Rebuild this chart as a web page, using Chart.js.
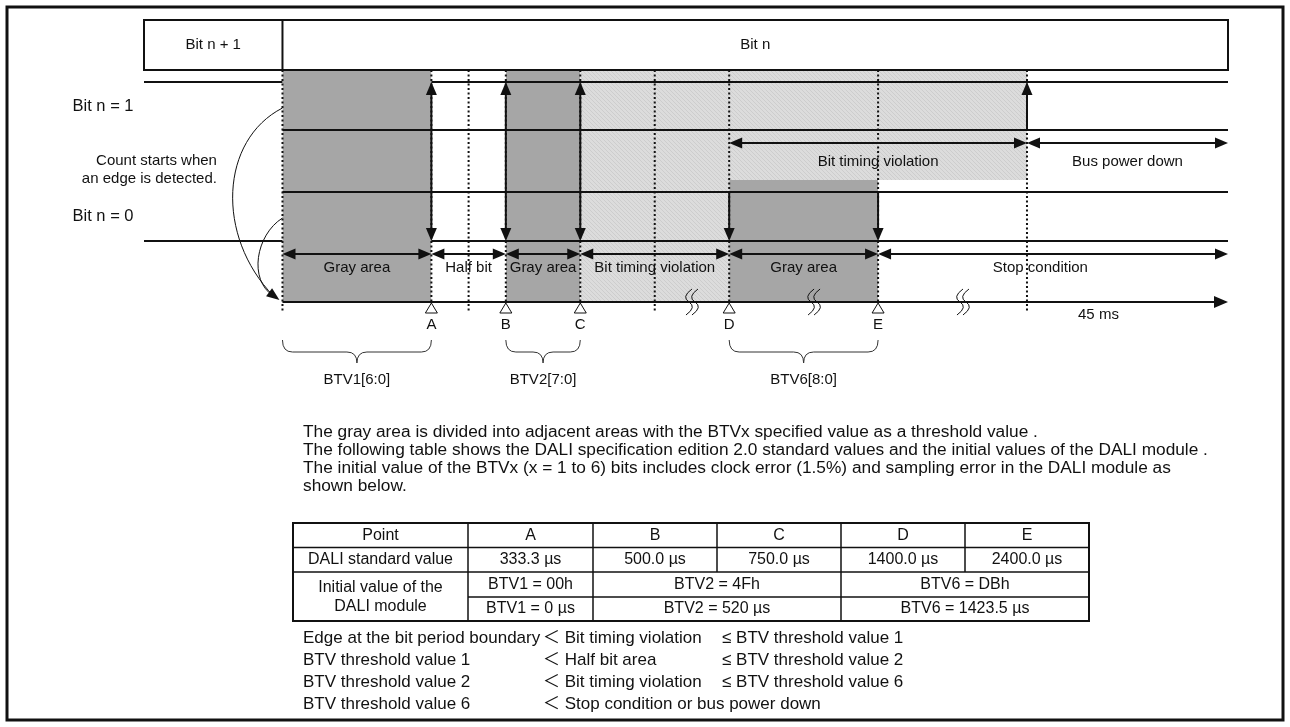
<!DOCTYPE html>
<html>
<head>
<meta charset="utf-8">
<title>DALI bit timing</title>
<script src="https://cdn.jsdelivr.net/npm/chart.js@4.4.1/dist/chart.umd.min.js"></script>
<style>
  html, body { margin: 0; padding: 0; background: #fff; }
  canvas { display: block; }
</style>
</head>
<body>
<canvas id="chart" width="1290" height="727"></canvas>
<script>
// time positions in "slot" units (bit start = 0, A = 1 ...), axis is broken so not to scale
const pointNames = ["A", "B", "C", "D", "E"];
const pointPos = [1, 1.5, 2, 3, 4];
const extraDots = [0, 1.25, 2.5, 5];
const breakPos = [2.73, 3.55, 4.55];
const axisMin = -0.93;
const axisMax = 6.35;

// levels of the drawing (y units)
const boxTop = 28.2, boxBottom = 23.2;
const bit1High = 22, bit1Low = 17.2;
const btvRow = 15.9, split = 12.2;
const bit0High = 11, bit0Low = 6.1;
const segRow = 4.8;

// gray / violation areas
const areaStart = [0, 1.5, 2, 2, 3];
const areaEnd = [1, 2, 5, 3, 4];
const areaLow = [0, 0, split, 0, 0];
const areaHigh = [boxBottom, boxBottom, boxBottom, split, split];
const areaKind = ["gray", "gray", "violation", "violation", "gray"];

// signal wires
const wireStart = [axisMin, 0, 1, 0, axisMin, 1];
const wireEnd = [0, axisMax, axisMax, axisMax, 0, axisMax];
const wireLevel = [bit1High, bit1Low, bit1High, bit0High, bit0Low, bit0Low];

// dimension arrows
const segStart = [0, 1, 1.5, 2, 3, 4];
const segEnd = [1, 1.5, 2, 3, 4, axisMax];
const segLabels = ["Gray area", "Half bit", "Gray area", "Bit timing violation", "Gray area", "Stop condition"];
const segLabelAt = [0.5, 1.25, 1.75, 2.5, 3.5, 5.09];
const btvStart = [3, 5];
const btvEnd = [5, axisMax];
const btvLabels = ["Bit timing violation", "Bus power down"];

const braceStart = [0, 1.5, 3];
const braceEnd = [1, 2, 4];
const braceLabels = ["BTV1[6:0]", "BTV2[7:0]", "BTV6[8:0]"];

const notes = [
  "The gray area is divided into adjacent areas with the BTVx specified value as a threshold value .",
  "The following table shows the DALI specification edition 2.0 standard values and the initial values of the DALI module .",
  "The initial value of the BTVx (x = 1 to 6) bits includes clock error (1.5%) and sampling error in the DALI module as",
  "shown below."
];

const tableHead = ["Point", "A", "B", "C", "D", "E"];
const standardValues = ["333.3 µs", "500.0 µs", "750.0 µs", "1400.0 µs", "2400.0 µs"];
const initHex = ["BTV1 = 00h", "BTV2 = 4Fh", "BTV6 = DBh"];
const initTime = ["BTV1 = 0 µs", "BTV2 = 520 µs", "BTV6 = 1423.5 µs"];

const ruleLeft = ["Edge at the bit period boundary", "BTV threshold value 1", "BTV threshold value 2", "BTV threshold value 6"];
const ruleMid = ["＜ Bit timing violation", "＜ Half bit area", "＜ Bit timing violation", "＜ Stop condition or bus power down"];
const ruleRight = ["≤ BTV threshold value 1", "≤ BTV threshold value 2", "≤ BTV threshold value 6", ""];

const FONT = '"Liberation Sans", Arial, "Noto Sans CJK JP", sans-serif';
const DARK = '#a6a6a6';

function hatch() {
  const c = document.createElement('canvas');
  c.width = 4; c.height = 4;
  const g = c.getContext('2d');
  g.fillStyle = '#dcdcdc';
  g.fillRect(0, 0, 4, 4);
  g.strokeStyle = '#cdcdcd';
  g.lineWidth = 1;
  g.beginPath(); g.moveTo(0, 0); g.lineTo(4, 4); g.stroke();
  return g.createPattern(c, 'repeat');
}
const LIGHT = hatch();

const datasets = [];
areaStart.forEach((s, i) => {
  datasets.push({
    data: [{x: s, y: areaHigh[i]}, {x: areaEnd[i], y: areaHigh[i]}],
    fill: {value: areaLow[i]},
    backgroundColor: areaKind[i] === 'gray' ? DARK : LIGHT,
    borderColor: 'transparent', borderWidth: 0,
    pointRadius: 0, order: 2, clip: false
  });
});
wireStart.forEach((s, i) => {
  datasets.push({
    data: [{x: s, y: wireLevel[i]}, {x: wireEnd[i], y: wireLevel[i]}],
    fill: false, borderColor: '#111', borderWidth: 2,
    pointRadius: 0, order: 1, clip: false
  });
});

function head(ctx, x, y, ang, len, half) {
  len = len || 13; half = half || 5.5;
  ctx.save();
  ctx.translate(x, y); ctx.rotate(ang);
  ctx.beginPath();
  ctx.moveTo(0, 0); ctx.lineTo(-len, -half); ctx.lineTo(-len, half); ctx.closePath();
  ctx.fill();
  ctx.restore();
}

const diagram = {
  id: 'diagram',
  beforeDraw(chart) {
    const ctx = chart.ctx;
    ctx.save();
    ctx.fillStyle = '#fff';
    ctx.fillRect(0, 0, chart.width, chart.height);
    ctx.restore();
  },
  afterDatasetsDraw(chart) {
    const ctx = chart.ctx;
    const X = v => chart.scales.x.getPixelForValue(v);
    const Y = v => chart.scales.y.getPixelForValue(v);
    ctx.save();
    ctx.strokeStyle = '#111';
    ctx.fillStyle = '#111';

    // header box
    ctx.lineWidth = 2;
    ctx.strokeRect(X(axisMin), Y(boxTop), X(axisMax) - X(axisMin), Y(boxBottom) - Y(boxTop));
    ctx.beginPath(); ctx.moveTo(X(0), Y(boxTop)); ctx.lineTo(X(0), Y(boxBottom)); ctx.stroke();

    // dotted verticals
    ctx.setLineDash([2, 2.5]);
    ctx.lineWidth = 2;
    pointPos.forEach(p => {
      ctx.beginPath(); ctx.moveTo(X(p), Y(boxBottom)); ctx.lineTo(X(p), Y(0)); ctx.stroke();
    });
    extraDots.forEach(p => {
      ctx.beginPath(); ctx.moveTo(X(p), Y(boxBottom)); ctx.lineTo(X(p), Y(-1.1)); ctx.stroke();
    });
    ctx.setLineDash([]);

    // time axis
    ctx.lineWidth = 2;
    ctx.beginPath(); ctx.moveTo(X(0), Y(0)); ctx.lineTo(X(axisMax) - 8, Y(0)); ctx.stroke();
    head(ctx, X(axisMax), Y(0), 0, 14, 6);

    // axis breaks
    breakPos.forEach(p => {
      const cx = X(p), cy = Y(0);
      [0, 6].forEach(off => {
        ctx.beginPath();
        ctx.lineWidth = 1;
        ctx.moveTo(cx + off + 3, cy - 13);
        ctx.quadraticCurveTo(cx + off - 8, cy - 5, cx + off, cy);
        ctx.quadraticCurveTo(cx + off + 8, cy + 5, cx + off - 3, cy + 13);
        ctx.stroke();
      });
    });

    // vertical arrows
    ctx.lineWidth = 2;
    pointPos.slice(0, 3).forEach(p => {
      ctx.beginPath(); ctx.moveTo(X(p), Y(bit1High) + 8); ctx.lineTo(X(p), Y(bit0Low) - 8); ctx.stroke();
      head(ctx, X(p), Y(bit1High), -Math.PI / 2);
      head(ctx, X(p), Y(bit0Low), Math.PI / 2);
    });
    pointPos.slice(3).forEach(p => {
      ctx.beginPath(); ctx.moveTo(X(p), Y(bit0High)); ctx.lineTo(X(p), Y(bit0Low) - 8); ctx.stroke();
      head(ctx, X(p), Y(bit0Low), Math.PI / 2);
    });
    ctx.beginPath(); ctx.moveTo(X(5), Y(bit1Low)); ctx.lineTo(X(5), Y(bit1High) + 8); ctx.stroke();
    head(ctx, X(5), Y(bit1High), -Math.PI / 2);

    // horizontal dimension arrows
    const dim = (a, b, lvl) => {
      ctx.beginPath(); ctx.moveTo(X(a) + 8, Y(lvl)); ctx.lineTo(X(b) - 8, Y(lvl)); ctx.stroke();
      head(ctx, X(a), Y(lvl), Math.PI);
      head(ctx, X(b), Y(lvl), 0);
    };
    segStart.forEach((s, i) => dim(s, segEnd[i], segRow));
    btvStart.forEach((s, i) => dim(s, btvEnd[i], btvRow));

    // triangles and point names
    ctx.font = '15px ' + FONT;
    ctx.textAlign = 'center';
    ctx.textBaseline = 'middle';
    pointPos.forEach((p, i) => {
      ctx.beginPath();
      ctx.moveTo(X(p), Y(0) + 1); ctx.lineTo(X(p) - 6, Y(-1.1)); ctx.lineTo(X(p) + 6, Y(-1.1)); ctx.closePath();
      ctx.fillStyle = '#fff'; ctx.fill();
      ctx.lineWidth = 1; ctx.strokeStyle = '#111'; ctx.stroke();
      ctx.fillStyle = '#111';
      ctx.fillText(pointNames[i], X(p), Y(-2.3));
    });
    ctx.fillText('45 ms', X(5.48), Y(-1.3));

    // labels of the areas
    segLabels.forEach((t, i) => ctx.fillText(t, X(segLabelAt[i]), Y(3.4)));
    btvLabels.forEach((t, i) => ctx.fillText(t, (X(btvStart[i]) + X(btvEnd[i])) / 2, Y(14.0)));

    // header texts
    ctx.fillText('Bit n + 1', (X(axisMin) + X(0)) / 2, Y(25.7));
    ctx.fillText('Bit n', (X(0) + X(axisMax)) / 2, Y(25.7));

    // left labels
    ctx.textAlign = 'right';
    ctx.fillText('Count starts when', X(-0.44), Y(14.1));
    ctx.fillText('an edge is detected.', X(-0.44), Y(12.3));
    ctx.textAlign = 'left';
    ctx.font = '16.5px ' + FONT;
    ctx.fillText('Bit n = 1', X(-1.41), Y(19.6));
    ctx.fillText('Bit n = 0', X(-1.41), Y(8.6));

    // curved arrows from the edges
    ctx.lineWidth = 1;
    const tipX = X(0) - 3, tipY = Y(0.2);
    ctx.beginPath();
    ctx.moveTo(X(0), Y(19.4));
    ctx.bezierCurveTo(X(-0.42), Y(16.2), X(-0.45), Y(6.6), tipX - 6, tipY - 4);
    ctx.stroke();
    ctx.beginPath();
    ctx.moveTo(X(0), Y(8.4));
    ctx.bezierCurveTo(X(-0.18), Y(6.7), X(-0.23), Y(2.2), tipX - 6, tipY - 4);
    ctx.stroke();
    head(ctx, tipX, tipY, Math.atan2(18, 24), 13, 5);

    // braces
    ctx.lineWidth = 1;
    ctx.strokeStyle = '#333';
    ctx.textAlign = 'center';
    ctx.font = '15px ' + FONT;
    braceStart.forEach((s, i) => {
      const x1 = X(s), x2 = X(braceEnd[i]), cx = (x1 + x2) / 2;
      const yt = Y(-3.8), ym = Y(-5.0), yb = Y(-6.1), r = 10;
      ctx.beginPath();
      ctx.moveTo(x1, yt);
      ctx.quadraticCurveTo(x1, ym, x1 + r, ym);
      ctx.lineTo(cx - r, ym);
      ctx.quadraticCurveTo(cx, ym, cx, yb);
      ctx.quadraticCurveTo(cx, ym, cx + r, ym);
      ctx.lineTo(x2 - r, ym);
      ctx.quadraticCurveTo(x2, ym, x2, yt);
      ctx.stroke();
      ctx.fillText(braceLabels[i], cx, Y(-7.8));
    });
    ctx.restore();
  },
  afterDraw(chart) {
    const ctx = chart.ctx;
    ctx.save();
    ctx.fillStyle = '#111';
    ctx.strokeStyle = '#111';

    // notes
    ctx.font = '17.3px ' + FONT;
    ctx.textAlign = 'left';
    ctx.textBaseline = 'middle';
    notes.forEach((t, i) => ctx.fillText(t, 303, 432 + i * 18));

    // table
    const cols = [293, 468, 593, 717, 841, 965, 1089];
    const rows = [523, 547.5, 572, 597, 621];
    const mid = (a, b) => (a + b) / 2;
    ctx.font = '16px ' + FONT;
    ctx.textAlign = 'center';
    tableHead.forEach((t, i) => ctx.fillText(t, mid(cols[i], cols[i + 1]), mid(rows[0], rows[1])));
    ctx.fillText('DALI standard value', mid(cols[0], cols[1]), mid(rows[1], rows[2]));
    standardValues.forEach((t, i) => ctx.fillText(t, mid(cols[i + 1], cols[i + 2]), mid(rows[1], rows[2])));
    ctx.fillText('Initial value of the', mid(cols[0], cols[1]), rows[2] + 16);
    ctx.fillText('DALI module', mid(cols[0], cols[1]), rows[3] + 10);
    const spans = [[1, 2], [2, 4], [4, 6]];
    spans.forEach((sp, i) => {
      ctx.fillText(initHex[i], mid(cols[sp[0]], cols[sp[1]]), mid(rows[2], rows[3]));
      ctx.fillText(initTime[i], mid(cols[sp[0]], cols[sp[1]]), mid(rows[3], rows[4]));
    });
    ctx.lineWidth = 2;
    ctx.strokeRect(cols[0], rows[0], cols[6] - cols[0], rows[4] - rows[0]);
    ctx.lineWidth = 1.5;
    const hl = (x1, x2, y) => { ctx.beginPath(); ctx.moveTo(x1, y); ctx.lineTo(x2, y); ctx.stroke(); };
    const vl = (x, y1, y2) => { ctx.beginPath(); ctx.moveTo(x, y1); ctx.lineTo(x, y2); ctx.stroke(); };
    hl(cols[0], cols[6], rows[1]);
    hl(cols[0], cols[6], rows[2]);
    hl(cols[1], cols[6], rows[3]);
    vl(cols[1], rows[0], rows[4]);
    vl(cols[2], rows[0], rows[4]);
    vl(cols[3], rows[0], rows[2]);
    vl(cols[4], rows[0], rows[4]);
    vl(cols[5], rows[0], rows[2]);

    // rules
    ctx.font = '17px ' + FONT;
    ctx.textAlign = 'left';
    ruleLeft.forEach((t, i) => {
      const y = 638 + i * 22;
      ctx.fillText(t, 303, y);
      ctx.fillText(ruleMid[i], 543, y);
      if (ruleRight[i]) ctx.fillText(ruleRight[i], 722, y);
    });

    // outer frame
    ctx.lineWidth = 3;
    ctx.strokeRect(7, 7, 1276, 713);
    ctx.restore();
  }
};

const chart = new Chart(document.getElementById('chart'), {
  type: 'line',
  data: {datasets: datasets},
  options: {
    responsive: false,
    animation: false,
    devicePixelRatio: 1,
    layout: {padding: {left: 144, right: 62, top: 20, bottom: 425}},
    plugins: {legend: {display: false}, tooltip: {enabled: false}},
    scales: {
      x: {type: 'linear', min: axisMin, max: axisMax, display: false},
      y: {type: 'linear', min: 0, max: boxTop, display: false}
    }
  },
  plugins: [diagram]
});
</script>
</body>
</html>
